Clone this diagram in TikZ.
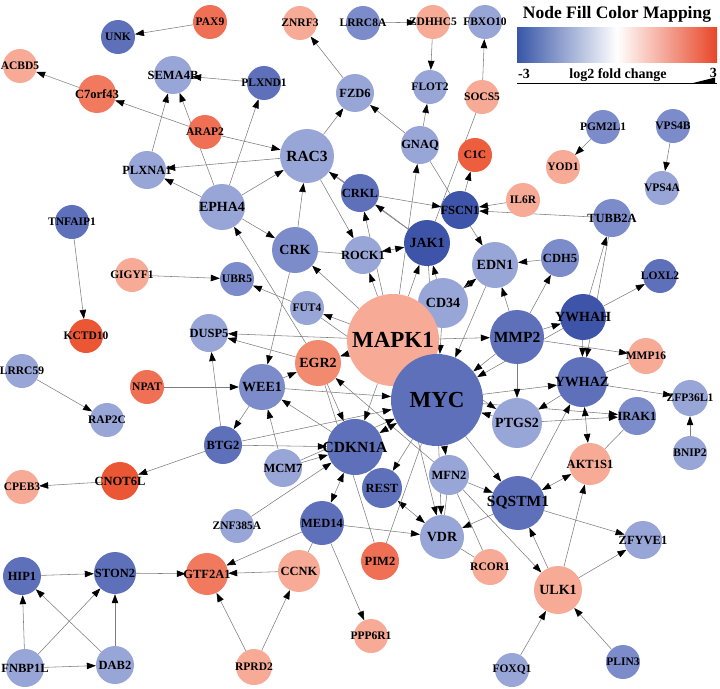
\documentclass[tikz,border=0pt]{standalone}
\usepackage{fontspec}
\setmainfont{Liberation Serif}
\usepackage{tikz}
\usetikzlibrary{arrows.meta, backgrounds}
\usepackage{xcolor}
\definecolor{DeepBlue}{RGB}{62, 84, 168}
\definecolor{MidBlue}{RGB}{94, 112, 186}
\definecolor{SoftBlue}{RGB}{124, 140, 203}
\definecolor{PaleBlue}{RGB}{152, 165, 215}
\definecolor{Salmon}{RGB}{247, 170, 150}
\definecolor{Coral}{RGB}{242, 138, 112}
\definecolor{Vermilion}{RGB}{239, 112, 84}
\definecolor{Scarlet}{RGB}{235, 86, 52}
\definecolor{EdgeGray}{RGB}{125, 125, 125}
\definecolor{LegBlue}{RGB}{56, 86, 168}
\definecolor{LegRed}{RGB}{232, 70, 40}

\begin{document}
\begin{tikzpicture}[
    x=1pt, y=-1pt,
    gene/.style={circle, draw=none, inner sep=0pt, text=black,
        execute at begin node={\hbox to 0pt\bgroup\hss}, execute at end node={\hss\egroup}},
    tiny/.style={gene, minimum size=34pt, font=\bfseries\fontsize{11.5}{11.5}\selectfont},
    small/.style={gene, minimum size=38pt, font=\bfseries\fontsize{12.5}{12.5}\selectfont},
    mid/.style={gene, minimum size=46pt, font=\bfseries\fontsize{14}{14}\selectfont},
    big/.style={gene, minimum size=54pt, font=\bfseries\fontsize{15.5}{15.5}\selectfont},
    hub/.style={gene, minimum size=92pt, font=\bfseries\fontsize{23}{23}\selectfont},
    arr/.style={draw=EdgeGray, line width=0.55pt, -{Triangle[length=9pt, width=6.5pt, color=black]}},
    biarr/.style={arr, {Triangle[length=9pt, width=6.5pt, color=black]}-{Triangle[length=9pt, width=6.5pt, color=black]}},
    link/.style={draw=EdgeGray, line width=0.55pt},
    legend/.style={inner sep=0pt, font=\bfseries\fontsize{14}{14}\selectfont}
]
\useasboundingbox (0,0) rectangle (720,688);

% legend
\node[legend, font=\bfseries\fontsize{17.5}{17.5}\selectfont, anchor=base] (legtitle) at (617,19) {Node Fill Color Mapping};
\node[minimum width=200pt, minimum height=35pt, inner sep=0pt, left color=LegBlue, right color=LegRed, middle color=white] (legbar) at (617,44.5) {};
\node[legend, anchor=base west] (legmin) at (518,78) {-3};
\node[legend, anchor=base] (legaxis) at (618,78) {log2 fold change};
\node[legend, anchor=base east] (legmax) at (717,77) {3};
\draw[line width=0.8pt] (517,83) -- (717,83);
\fill (693,83) -- (715,77.5) -- (715,83) -- cycle;

% genes
\node[tiny, fill=MidBlue] (UNK) at (118,37) {UNK};
\node[tiny, fill=Vermilion] (PAX9) at (210,22) {PAX9};
\node[tiny, fill=Salmon] (ZNRF3) at (300,23) {ZNRF3};
\node[tiny, fill=SoftBlue] (LRRC8A) at (363,23) {LRRC8A};
\node[tiny, fill=Salmon] (ZDHHC5) at (433,22) {ZDHHC5};
\node[tiny, fill=PaleBlue] (FBXO10) at (485,22) {FBXO10};
\node[tiny, fill=Salmon] (ACBD5) at (20,66) {ACBD5};
\node[small, fill=Vermilion!85!Salmon] (C7orf43) at (97,94) {C7orf43};
\node[small, fill=PaleBlue] (SEMA4B) at (173,75) {SEMA4B};
\node[tiny, fill=MidBlue] (PLXND1) at (264,83) {PLXND1};
\node[small, fill=PaleBlue] (FZD6) at (355,93) {FZD6};
\node[tiny, fill=PaleBlue] (FLOT2) at (430,87) {FLOT2};
\node[tiny, fill=Salmon] (SOCS5) at (482,97) {SOCS5};
\node[tiny, fill=Vermilion] (ARAP2) at (205,132) {ARAP2};
\node[big, fill=PaleBlue] (RAC3) at (307,156) {RAC3};
\node[small, fill=PaleBlue] (GNAQ) at (420,145) {GNAQ};
\node[tiny, fill=Scarlet!70!Vermilion] (C1C) at (475,155) {C1C};
\node[tiny, fill=SoftBlue] (PGM2L1) at (603,127) {PGM2L1};
\node[tiny, fill=SoftBlue] (VPS4B) at (673,126) {VPS4B};
\node[tiny, fill=Salmon] (YOD1) at (563,167) {YOD1};
\node[tiny, fill=PaleBlue] (VPS4A) at (662,188) {VPS4A};
\node[small, fill=PaleBlue] (PLXNA1) at (147,170) {PLXNA1};
\node[mid, fill=PaleBlue] (EPHA4) at (222,207) {EPHA4};
\node[small, fill=MidBlue] (CRKL) at (360,193) {CRKL};
\node[small, fill=DeepBlue] (FSCN1) at (460,210) {FSCN1};
\node[tiny, fill=Salmon] (IL6R) at (523,200) {IL6R};
\node[small, fill=SoftBlue] (TUBB2A) at (612,218) {TUBB2A};
\node[tiny, fill=MidBlue] (TNFAIP1) at (72,222) {TNFAIP1};
\node[tiny, fill=Salmon] (GIGYF1) at (132,275) {GIGYF1};
\node[tiny, fill=Scarlet] (KCTD10) at (86,336) {KCTD10};
\node[tiny, fill=PaleBlue] (LRRC59) at (22,371) {LRRC59};
\node[tiny, fill=Vermilion] (NPAT) at (147,387) {NPAT};
\node[tiny, fill=PaleBlue] (RAP2C) at (107,420) {RAP2C};
\node[mid, fill=SoftBlue] (CRK) at (295,250) {CRK};
\node[small, fill=PaleBlue] (ROCK1) at (363,255) {ROCK1};
\node[tiny, fill=SoftBlue] (UBR5) at (237,279) {UBR5};
\node[tiny, fill=PaleBlue] (FUT4) at (307,308) {FUT4};
\node[small, fill=PaleBlue] (DUSP5) at (209,333) {DUSP5};
\node[mid, fill=Coral] (EGR2) at (318,363) {EGR2};
\node[mid, fill=SoftBlue] (WEE1) at (262,387) {WEE1};
\node[small, fill=MidBlue] (BTG2) at (223,445) {BTG2};
\node[mid, fill=DeepBlue] (JAK1) at (427,243) {JAK1};
\node[mid, fill=PaleBlue] (EDN1) at (495,265) {EDN1};
\node[mid, fill=PaleBlue, minimum size=50pt] (CD34) at (443,303) {CD34};
\node[hub, fill=Salmon] (MAPK1) at (393,340) {MAPK1};
\node[big, fill=MidBlue] (MMP2) at (517,337) {MMP2};
\node[hub, fill=MidBlue] (MYC) at (437,400) {MYC};
\node[mid, fill=PaleBlue, minimum size=50pt] (PTGS2) at (517,423) {PTGS2};
\node[big, fill=MidBlue, minimum size=56pt] (CDKN1A) at (355,447) {CDKN1A};
\node[small, fill=SoftBlue] (CDH5) at (560,258) {CDH5};
\node[tiny, fill=MidBlue] (LOXL2) at (660,276) {LOXL2};
\node[mid, fill=DeepBlue] (YWHAH) at (583,317) {YWHAH};
\node[tiny, fill=Salmon, minimum size=36pt] (MMP16) at (646,356) {MMP16};
\node[mid, fill=MidBlue, minimum size=50pt] (YWHAZ) at (582,382) {YWHAZ};
\node[tiny, fill=PaleBlue, minimum size=36pt] (ZFP36L1) at (690,398) {ZFP36L1};
\node[small, fill=SoftBlue] (IRAK1) at (637,416) {IRAK1};
\node[tiny, fill=PaleBlue] (BNIP2) at (690,453) {BNIP2};
\node[small, fill=Salmon, minimum size=42pt] (AKT1S1) at (590,464) {AKT1S1};
\node[small, fill=Scarlet] (CNOT6L) at (120,481) {CNOT6L};
\node[tiny, fill=Salmon] (CPEB3) at (22,487) {CPEB3};
\node[small, fill=PaleBlue] (MCM7) at (283,468) {MCM7};
\node[small, fill=MidBlue, minimum size=40pt] (REST) at (382,488) {REST};
\node[small, fill=PaleBlue, minimum size=40pt] (MFN2) at (449,475) {MFN2};
\node[big, fill=MidBlue] (SQSTM1) at (518,503) {SQSTM1};
\node[tiny, fill=PaleBlue] (ZNF385A) at (237,526) {ZNF385A};
\node[small, fill=MidBlue, minimum size=44pt] (MED14) at (322,523) {MED14};
\node[mid, fill=PaleBlue, minimum size=44pt] (VDR) at (442,537) {VDR};
\node[small, fill=PaleBlue] (ZFYVE1) at (643,540) {ZFYVE1};
\node[small, fill=Vermilion] (PIM2) at (380,561) {PIM2};
\node[tiny, fill=Salmon, minimum size=36pt] (RCOR1) at (490,567) {RCOR1};
\node[small, fill=Vermilion!85!Salmon, minimum size=42pt] (GTF2A1) at (207,574) {GTF2A1};
\node[small, fill=Salmon, minimum size=42pt] (CCNK) at (299,571) {CCNK};
\node[small, fill=MidBlue] (HIP1) at (22,576) {HIP1};
\node[small, fill=MidBlue, minimum size=42pt] (STON2) at (115,573) {STON2};
\node[mid, fill=Salmon, minimum size=48pt] (ULK1) at (558,590) {ULK1};
\node[tiny, fill=Salmon] (PPP6R1) at (371,636) {PPP6R1};
\node[tiny, fill=PaleBlue] (FOXQ1) at (512,670) {FOXQ1};
\node[tiny, fill=SoftBlue] (PLIN3) at (623,662) {PLIN3};
\node[tiny, fill=Salmon, minimum size=36pt] (RPRD2) at (254,667) {RPRD2};
\node[small, fill=PaleBlue] (FNBP1L) at (25,668) {FNBP1L};
\node[small, fill=PaleBlue] (DAB2) at (115,665) {DAB2};

\begin{scope}[on background layer]
% outer edges
\draw[arr] (PAX9) -- (UNK);
\draw[arr] (C7orf43) -- (ACBD5);
\draw[arr] (ARAP2) -- (C7orf43);
\draw[arr] (PLXNA1) -- (SEMA4B);
\draw[arr] (PLXND1) -- (SEMA4B);
\draw[arr] (EPHA4) -- (SEMA4B);
\draw[arr] (ARAP2) -- (RAC3);
\draw[arr] (RAC3) -- (PLXNA1);
\draw[arr] (EPHA4) -- (PLXNA1);
\draw[arr] (EPHA4) -- (PLXND1);
\draw[arr] (EPHA4) -- (RAC3);
\draw[arr] (RAC3) -- (FZD6);
\draw[arr] (FZD6) -- (ZNRF3);
\draw[arr] (LRRC8A) -- (ZDHHC5);
\draw[arr] (ZDHHC5) -- (FLOT2);
\draw[arr] (GNAQ) -- (FLOT2);
\draw[arr] (GNAQ) -- (FZD6);
\draw[arr] (SOCS5) -- (FBXO10);
\draw[link] (SOCS5) -- (JAK1);
\draw[link] (GNAQ) -- (FSCN1);
\draw[arr] (FSCN1) -- (C1C);
\draw[arr] (CRKL) -- (FSCN1);
\draw[arr] (IL6R) -- (FSCN1);
\draw[arr] (TUBB2A) -- (FSCN1);
\draw[arr] (PGM2L1) -- (YOD1);
\draw[arr] (VPS4B) -- (VPS4A);
\draw[arr] (YWHAH) -- (TUBB2A);
\draw[arr] (TUBB2A) -- (YWHAZ);
\draw[arr] (YWHAH) -- (LOXL2);
\draw[arr] (MMP2) -- (YWHAH);
\draw[arr] (YWHAH) -- (YWHAZ);
\draw[arr] (MMP2) -- (MMP16);
\draw[link] (YWHAZ) -- (MMP16);
\draw[arr] (YWHAZ) -- (ZFP36L1);
\draw[arr] (BNIP2) -- (ZFP36L1);
\draw[arr] (PTGS2) -- (IRAK1);
\draw[arr] (MYC) -- (IRAK1);
\draw[link] (IRAK1) -- (AKT1S1);
\draw[biarr] (YWHAZ) -- (AKT1S1);
\draw[arr] (SQSTM1) -- (YWHAZ);
\draw[arr] (YWHAZ) -- (PTGS2);
\draw[arr] (MYC) -- (YWHAZ);
\draw[biarr] (SQSTM1) -- (AKT1S1);
\draw[arr] (ULK1) -- (AKT1S1);
\draw[arr] (SQSTM1) -- (ZFYVE1);
\draw[arr] (ULK1) -- (ZFYVE1);
\draw[arr] (PLIN3) -- (ULK1);
\draw[arr] (FOXQ1) -- (ULK1);
\draw[arr] (MFN2) -- (ULK1);
\draw[arr] (ULK1) -- (SQSTM1);
\draw[arr] (MFN2) -- (SQSTM1);
\draw[arr] (SQSTM1) -- (VDR);
\draw[link] (MFN2) -- (VDR);
\draw[link] (MFN2) -- (RCOR1);
\draw[link] (VDR) -- (RCOR1);
\draw[biarr] (REST) -- (VDR);
\draw[arr] (MED14) -- (VDR);
\draw[arr] (MAPK1) -- (VDR);
\draw[link] (PIM2) -- (MYC);
\draw[link] (EGR2) -- (PIM2);
\draw[link] (REST) -- (CDKN1A);
\draw[arr] (ZNF385A) -- (CDKN1A);
\draw[biarr] (MED14) -- (CDKN1A);
\draw[arr] (MED14) -- (GTF2A1);
\draw[arr] (CCNK) -- (GTF2A1);
\draw[link] (CCNK) -- (MED14);
\draw[arr] (RPRD2) -- (GTF2A1);
\draw[arr] (RPRD2) -- (CCNK);
\draw[arr] (MED14) -- (PPP6R1);
\draw[arr] (STON2) -- (GTF2A1);
\draw[arr] (HIP1) -- (STON2);
\draw[arr] (DAB2) -- (STON2);
\draw[arr] (DAB2) -- (HIP1);
\draw[arr] (FNBP1L) -- (HIP1);
\draw[arr] (FNBP1L) -- (STON2);
\draw[arr] (FNBP1L) -- (DAB2);
\draw[arr] (BTG2) -- (CNOT6L);
\draw[arr] (CNOT6L) -- (CPEB3);
\draw[arr] (LRRC59) -- (RAP2C);
\draw[arr] (TNFAIP1) -- (KCTD10);
\draw[arr] (GIGYF1) -- (UBR5);
\draw[arr] (NPAT) -- (WEE1);
% inner edges
\draw[arr] (CRK) -- (WEE1);
\draw[arr] (FUT4) -- (UBR5);
\draw[arr] (MAPK1) -- (FUT4);
\draw[arr] (MAPK1) -- (CRK);
\draw[arr] (EGR2) -- (EPHA4);
\draw[arr] (MAPK1) -- (DUSP5);
\draw[arr] (EGR2) -- (DUSP5);
\draw[arr] (BTG2) -- (DUSP5);
\draw[arr] (WEE1) -- (EGR2);
\draw[arr] (WEE1) -- (BTG2);
\draw[arr] (CDKN1A) -- (WEE1);
\draw[arr] (MCM7) -- (WEE1);
\draw[arr] (EGR2) -- (CDKN1A);
\draw[arr] (MFN2) -- (EGR2);
\draw[arr] (BTG2) -- (CDKN1A);
\draw[arr] (BTG2) -- (MYC);
\draw[arr] (WEE1) -- (MYC);
\draw[link] (FUT4) -- (MYC);
\draw[link] (CRK) -- (ROCK1);
\draw[arr] (EPHA4) -- (CRK);
\draw[link] (RAC3) -- (CRKL);
\draw[arr] (JAK1) -- (RAC3);
\draw[arr] (RAC3) -- (ROCK1);
\draw[arr] (CRK) -- (RAC3);
\draw[arr] (JAK1) -- (CRKL);
\draw[arr] (MAPK1) -- (CRKL);
\draw[arr] (MAPK1) -- (GNAQ);
\draw[biarr] (ROCK1) -- (JAK1);
\draw[arr] (MAPK1) -- (ROCK1);
\draw[arr] (MAPK1) -- (JAK1);
\draw[arr] (EDN1) -- (CD34);
\draw[arr] (CDH5) -- (EDN1);
\draw[arr] (MMP2) -- (EDN1);
\draw[arr] (MMP2) -- (CDH5);
\draw[arr] (MAPK1) -- (MMP2);
\draw[arr] (CD34) -- (MYC);
\draw[arr] (MMP2) -- (MYC);
\draw[arr] (MMP2) -- (PTGS2);
\draw[arr] (PTGS2) -- (MYC);
\draw[biarr] (CDKN1A) -- (MYC);
\draw[arr] (MAPK1) -- (CDKN1A);
\draw[arr] (MAPK1) -- (MYC);
\draw[arr] (MAPK1) -- (EDN1);
\draw[arr] (MAPK1) -- (CD34);
\draw[arr] (MAPK1) -- (EGR2);
\draw[arr] (MAPK1) -- (PTGS2);
\draw[arr] (MYC) -- (MFN2);
\draw[arr] (MYC) -- (REST);
\draw[arr] (MCM7) -- (MYC);
\draw[arr] (MCM7) -- (CDKN1A);
\draw[arr] (MYC) -- (SQSTM1);
\draw[arr] (MYC) -- (VDR);
\draw[arr] (EDN1) -- (MYC);
\draw[arr] (JAK1) -- (MYC);
\draw[arr] (YWHAH) -- (MYC);
\draw[arr] (CD34) -- (JAK1);
\draw[arr] (FSCN1) -- (EDN1);
\end{scope}
\end{tikzpicture}
\end{document}
